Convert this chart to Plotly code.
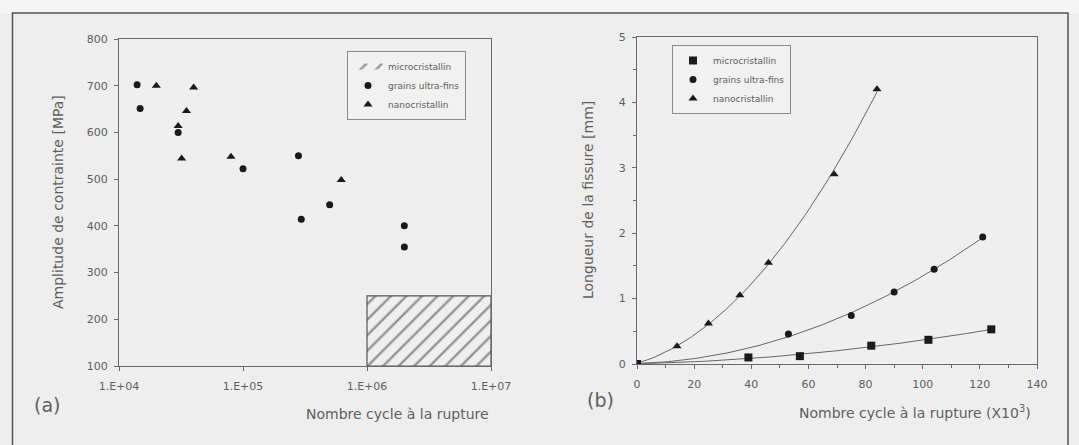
import numpy as np
import plotly.graph_objects as go

# ---------------- Panel (a) data ----------------
a_ultrafin_x = [1.4e4, 1.48e4, 3.0e4, 1.0e5, 2.8e5, 2.95e5, 5.0e5, 2.0e6, 2.0e6]
a_ultrafin_y = [702, 651, 600, 522, 550, 414, 445, 400, 355]
a_nano_x = [2.0e4, 4.0e4, 3.5e4, 3.0e4, 3.2e4, 8.0e4, 6.2e5]
a_nano_y = [700, 696, 646, 614, 544, 548, 498]
a_micro_box_x = [1e6, 1e7]
a_micro_box_y = [100, 250]
a_xticks = [1e4, 1e5, 1e6, 1e7]
a_xticklabels = ["1.E+04", "1.E+05", "1.E+06", "1.E+07"]
a_yticks = [100, 200, 300, 400, 500, 600, 700, 800]

# ---------------- Panel (b) data ----------------
b_micro_x = [0, 39, 57, 82, 102, 124]
b_micro_y = [0, 0.10, 0.12, 0.28, 0.37, 0.53]
b_ultrafin_x = [0, 53, 75, 90, 104, 121]
b_ultrafin_y = [0, 0.46, 0.74, 1.10, 1.45, 1.94]
b_nano_x = [0, 14, 25, 36, 46, 69, 84]
b_nano_y = [0, 0.27, 0.62, 1.05, 1.55, 2.90, 4.20]
b_xticks = [0, 20, 40, 60, 80, 100, 120, 140]
b_yticks = [0, 1, 2, 3, 4, 5]

W, H = 1079, 445
def px(x): return x / W
def py(y): return 1 - y / H

FONT = "DejaVu Sans, Verdana, sans-serif"
TXT = "#5e5e5e"
AX = "#6a6a6a"
MK = "#1a1a1a"

fig = go.Figure()

# ---- (a) hatched region (microcristallin) ----
bx = [a_micro_box_x[0], a_micro_box_x[1], a_micro_box_x[1], a_micro_box_x[0], a_micro_box_x[0]]
by = [a_micro_box_y[0], a_micro_box_y[0], a_micro_box_y[1], a_micro_box_y[1], a_micro_box_y[0]]
fig.add_trace(go.Scatter(
    x=bx, y=by, mode="none", fill="toself",
    fillcolor="rgba(0,0,0,0)",
    fillpattern=dict(shape="/", fgcolor="#3a3a3a", bgcolor="rgba(0,0,0,0)", size=11, solidity=0.22),
    name="microcristallin", legend="legend", xaxis="x", yaxis="y", hoverinfo="skip"))
fig.add_trace(go.Scatter(
    x=bx, y=by, mode="lines", line=dict(color="#555555", width=1.2),
    showlegend=False, xaxis="x", yaxis="y", hoverinfo="skip"))
fig.add_trace(go.Scatter(
    x=a_ultrafin_x, y=a_ultrafin_y, mode="markers",
    marker=dict(symbol="circle", size=7, color=MK),
    name="grains ultra-fins", legend="legend", xaxis="x", yaxis="y"))
fig.add_trace(go.Scatter(
    x=a_nano_x, y=a_nano_y, mode="markers",
    marker=dict(symbol="triangle-up", size=8, color=MK),
    name="nanocristallin", legend="legend", xaxis="x", yaxis="y"))

# ---- (b) trend curves fitted from the data ----
def fit_curve(xs, ys, deg):
    c = np.polyfit(xs, ys, deg)
    xx = np.linspace(0, max(xs), 120)
    return xx, np.polyval(c, xx)

for xs, ys in [(b_micro_x, b_micro_y), (b_ultrafin_x, b_ultrafin_y), (b_nano_x, b_nano_y)]:
    xx, yy = fit_curve(xs, ys, 2)
    fig.add_trace(go.Scatter(x=xx, y=yy, mode="lines", line=dict(color="#666666", width=1),
                             showlegend=False, xaxis="x2", yaxis="y2", hoverinfo="skip"))

fig.add_trace(go.Scatter(
    x=b_micro_x, y=b_micro_y, mode="markers",
    marker=dict(symbol="square", size=8, color=MK),
    name="microcristallin", legend="legend2", xaxis="x2", yaxis="y2"))
fig.add_trace(go.Scatter(
    x=b_ultrafin_x, y=b_ultrafin_y, mode="markers",
    marker=dict(symbol="circle", size=7, color=MK),
    name="grains ultra-fins", legend="legend2", xaxis="x2", yaxis="y2"))
fig.add_trace(go.Scatter(
    x=b_nano_x, y=b_nano_y, mode="markers",
    marker=dict(symbol="triangle-up", size=8, color=MK),
    name="nanocristallin", legend="legend2", xaxis="x2", yaxis="y2"))

axis_common = dict(showgrid=False, zeroline=False, showline=True, linecolor=AX, linewidth=1.2,
                   mirror=True, ticks="outside", ticklen=4, tickcolor=AX, automargin=False,
                   tickfont=dict(family=FONT, size=11, color=TXT))

fig.update_layout(
    width=W, height=H,
    margin=dict(l=0, r=0, t=0, b=0),
    paper_bgcolor="#eeeeee", plot_bgcolor="#efefef",
    font=dict(family=FONT, color=TXT),
    xaxis=dict(axis_common, type="log", range=[4, 7], tickvals=a_xticks, ticktext=a_xticklabels,
               domain=[px(119), px(491)], anchor="y", ticklabelstandoff=6),
    yaxis=dict(axis_common, range=[100, 800], tickvals=a_yticks, domain=[py(366), py(39)], anchor="x",
               ticklabelstandoff=4),
    xaxis2=dict(axis_common, range=[0, 140], tickvals=b_xticks, domain=[px(637), px(1037)], anchor="y2",
                ticklabelstandoff=6,
                minor=dict(dtick=10, ticks="outside", ticklen=3, tickcolor=AX)),
    yaxis2=dict(axis_common, range=[0, 5], tickvals=b_yticks, domain=[py(364), py(37)], anchor="x2",
                ticklabelstandoff=4,
                minor=dict(dtick=0.5, ticks="outside", ticklen=3, tickcolor=AX)),
    legend=dict(x=px(347), y=py(51), xanchor="left", yanchor="top",
                bgcolor="#f1f1f1", bordercolor="#8a8a8a", borderwidth=1,
                font=dict(family=FONT, size=9, color=TXT), itemwidth=30, tracegroupgap=0,
                itemclick=False),
    legend2=dict(x=px(672), y=py(45), xanchor="left", yanchor="top",
                 bgcolor="#f1f1f1", bordercolor="#8a8a8a", borderwidth=1,
                 font=dict(family=FONT, size=9, color=TXT), itemwidth=30, tracegroupgap=0,
                 itemclick=False),
    showlegend=True,
)

ann_font = dict(family=FONT, size=14, color=TXT)
fig.add_annotation(text="Nombre cycle à la rupture", x=px(397), y=py(414), xref="paper", yref="paper",
                   xanchor="center", yanchor="middle", showarrow=False, font=ann_font)
fig.add_annotation(text="Nombre cycle à la rupture (X10<sup>3</sup>)", x=px(915), y=py(412),
                   xref="paper", yref="paper", xanchor="center", yanchor="middle",
                   showarrow=False, font=ann_font)
fig.add_annotation(text="Amplitude de contrainte [MPa]", x=px(58), y=py(202), xref="paper", yref="paper",
                   xanchor="center", yanchor="middle", textangle=-90, showarrow=False, font=ann_font)
fig.add_annotation(text="Longueur de la fissure [mm]", x=px(588), y=py(200), xref="paper", yref="paper",
                   xanchor="center", yanchor="middle", textangle=-90, showarrow=False, font=ann_font)
fig.add_annotation(text="(a)", x=px(47), y=py(405), xref="paper", yref="paper",
                   xanchor="center", yanchor="middle", showarrow=False,
                   font=dict(family=FONT, size=19, color=TXT))
fig.add_annotation(text="(b)", x=px(600), y=py(400), xref="paper", yref="paper",
                   xanchor="center", yanchor="middle", showarrow=False,
                   font=dict(family=FONT, size=19, color=TXT))

# lighter strip above the frame
fig.add_shape(type="rect", xref="paper", yref="paper", x0=0, x1=1, y0=py(13), y1=1,
              line=dict(width=0), fillcolor="#f5f5f5", layer="below")
# outer frame
fig.add_shape(type="rect", xref="paper", yref="paper", x0=px(12.5), x1=px(1068), y0=-0.05, y1=py(13),
              line=dict(color="#555555", width=1.5), fillcolor="rgba(0,0,0,0)", layer="below")

fig.write_html("out.html", config={"displayModeBar": False},
               post_script="document.body.style.margin='0';document.body.style.overflow='hidden';")
